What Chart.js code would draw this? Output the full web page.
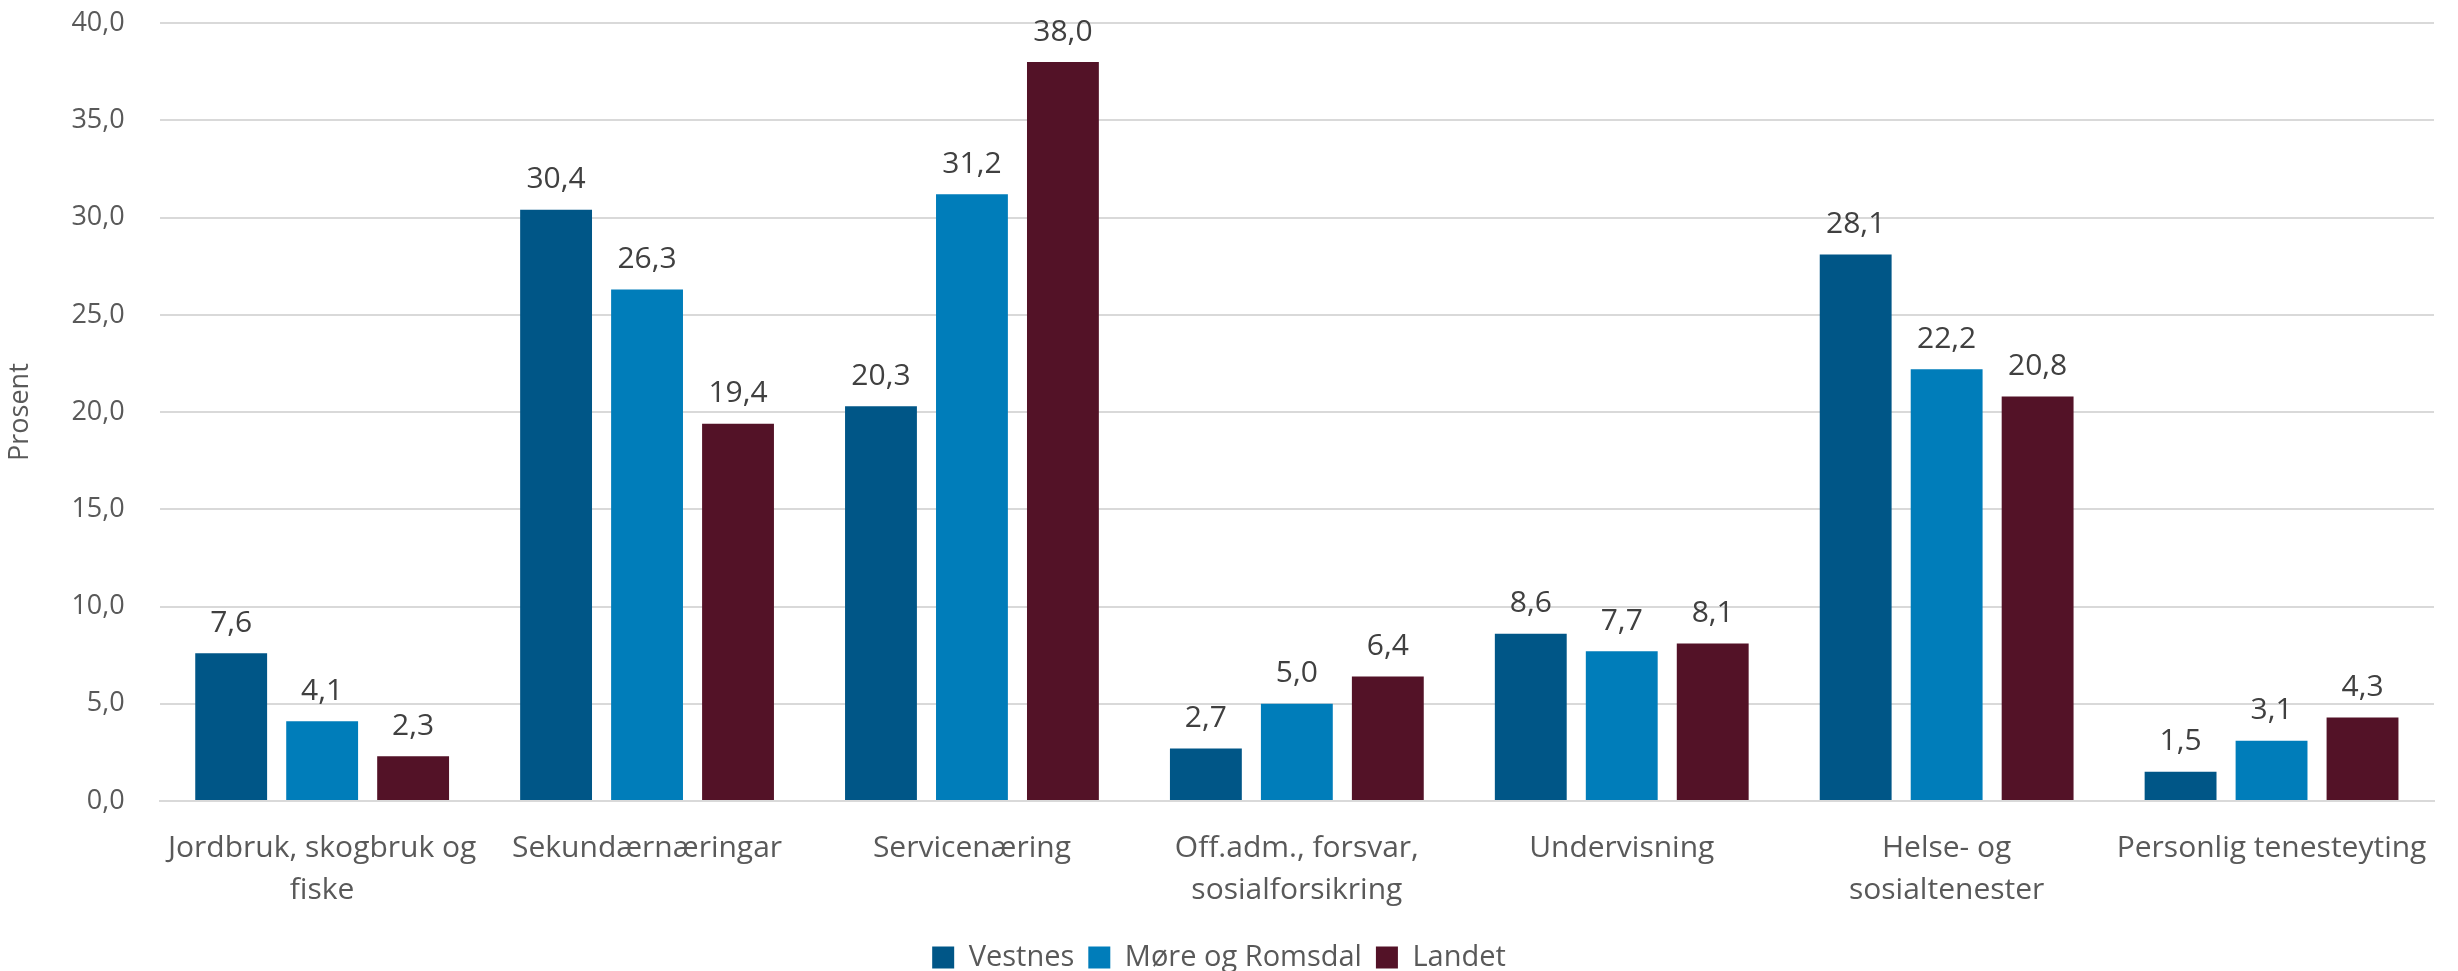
<!DOCTYPE html>
<html>
<head>
<meta charset="utf-8">
<script src="https://cdn.jsdelivr.net/npm/chart.js@4"></script>
<style>
  html, body { margin: 0; padding: 0; background: #fff; }
  #wrap { width: 2458px; height: 971px; position: relative; overflow: hidden; }
  #inner { position: absolute; left: 0; top: -28px; width: 2458px; height: 1010px; }
</style>
</head>
<body>
<div id="wrap"><div id="inner"><canvas id="sysselsette"></canvas></div></div>
<script>
// kategoriar og tal (prosent)
const kategoriar = [
  ['Jordbruk, skogbruk og', 'fiske'],
  'Sekundærnæringar',
  'Servicenæring',
  ['Off.adm., forsvar,', 'sosialforsikring'],
  'Undervisning',
  ['Helse- og', 'sosialtenester'],
  'Personlig tenesteyting'
];
const vestnes = [7.6, 30.4, 20.3, 2.7, 8.6, 28.1, 1.5];
const moreOgRomsdal = [4.1, 26.3, 31.2, 5.0, 7.7, 22.2, 3.1];
const landet = [2.3, 19.4, 38.0, 6.4, 8.1, 20.8, 4.3];
const yTicks = [0, 5, 10, 15, 20, 25, 30, 35, 40];

const tekstFarge = '#595959';
const skrift = "'Open Sans', sans-serif";

const fmt = v => v.toFixed(1).replace('.', ',');

// enkel plugin for verdiar over søylene
const verdiEtikettar = {
  id: 'verdiEtikettar',
  afterDatasetsDraw(chart) {
    const ctx = chart.ctx;
    ctx.save();
    ctx.font = '30px ' + skrift;
    ctx.fillStyle = '#404040';
    ctx.textAlign = 'center';
    ctx.textBaseline = 'bottom';
    chart.data.datasets.forEach((ds, i) => {
      chart.getDatasetMeta(i).data.forEach((bar, j) => {
        ctx.fillText(fmt(ds.data[j]), bar.x, bar.y - 15);
      });
    });
    ctx.restore();
  }
};

const felles = { categoryPercentage: 0.84, barPercentage: 0.79 };

new Chart(document.getElementById('sysselsette'), {
  type: 'bar',
  data: {
    labels: kategoriar,
    datasets: [
      { label: 'Vestnes', data: vestnes, backgroundColor: '#005687', ...felles },
      { label: 'Møre og Romsdal', data: moreOgRomsdal, backgroundColor: '#007DBA', ...felles },
      { label: 'Landet', data: landet, backgroundColor: '#531227', ...felles }
    ]
  },
  options: {
    responsive: true,
    maintainAspectRatio: false,
    animation: false,
    layout: { padding: { top: 0, right: 24, left: 4, bottom: 0 } },
    scales: {
      x: {
        grid: { display: false },
        border: { display: true, color: '#D9D9D9', width: 2 },
        ticks: {
          color: tekstFarge,
          font: { family: skrift, size: 30, lineHeight: 1.4 },
          maxRotation: 0,
          autoSkip: false,
          padding: 18
        }
      },
      y: {
        min: 0,
        max: 40,
        afterBuildTicks(axis) { axis.ticks = yTicks.map(v => ({ value: v })); },
        grid: { color: '#D9D9D9', lineWidth: 2, drawTicks: false },
        border: { display: false },
        ticks: {
          color: tekstFarge,
          font: { family: skrift, size: 27 },
          padding: 35,
          callback: v => fmt(v)
        },
        title: {
          display: true,
          text: 'Prosent',
          color: tekstFarge,
          font: { family: skrift, size: 27 },
          padding: { top: 0, bottom: 0 }
        }
      }
    },
    plugins: {
      legend: {
        position: 'bottom',
        labels: {
          color: tekstFarge,
          font: { family: skrift, size: 29 },
          boxWidth: 22,
          boxHeight: 22,
          padding: 14
        }
      },
      tooltip: { enabled: false }
    }
  },
  plugins: [verdiEtikettar]
});
</script>
</body>
</html>
